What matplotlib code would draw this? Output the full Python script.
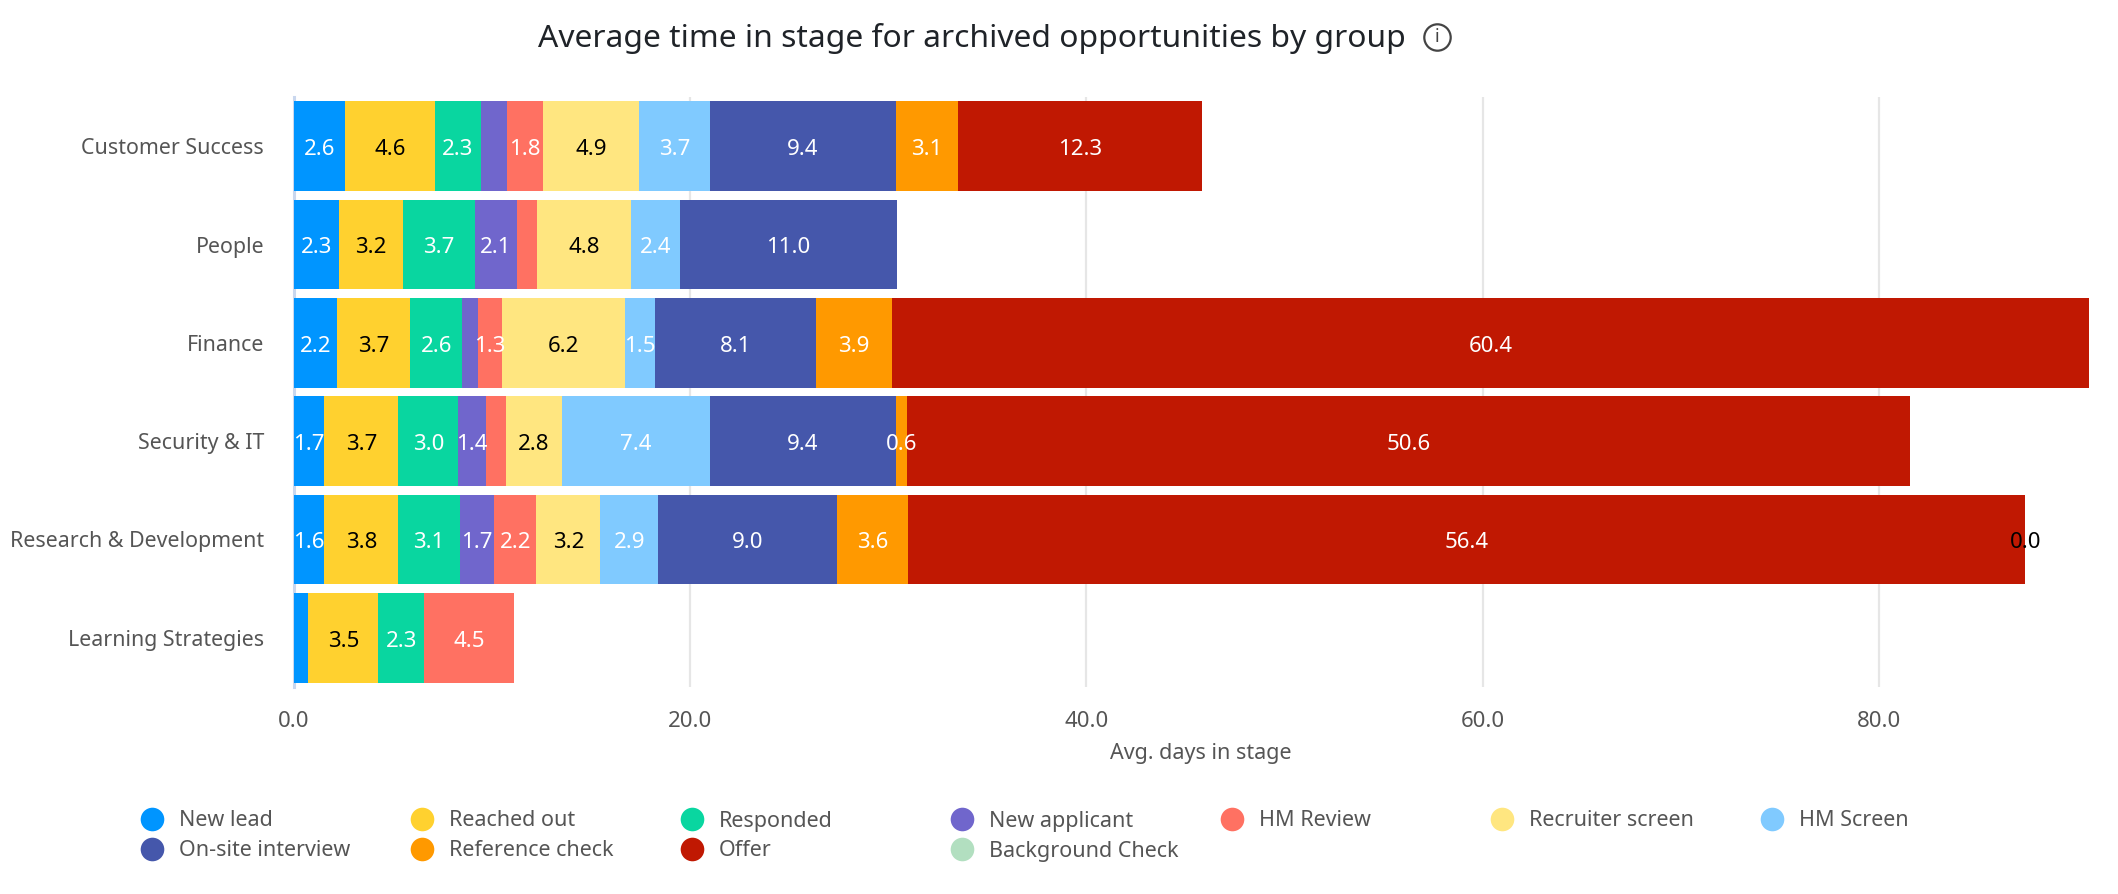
import matplotlib
matplotlib.use("Agg")
import matplotlib.pyplot as plt
from matplotlib.lines import Line2D

plt.rcParams['font.family'] = ['Noto Sans', 'DejaVu Sans']

groups = ["Customer Success", "People", "Finance", "Security & IT", "Research & Development", "Learning Strategies"]
stages = ["New lead", "Reached out", "Responded", "New applicant", "HM Review", "Recruiter screen", "HM Screen",
          "On-site interview", "Reference check", "Offer", "Background Check"]
colors = ["#0095ff", "#ffd12f", "#09d6a0", "#7066cc", "#ff7162", "#ffe680", "#80caff",
          "#4557ab", "#ff9900", "#c01802", "#b2dfc0"]
label_colors = ["white", "black", "white", "white", "white", "black", "white", "white", "white", "white", "black"]

# widths
new_lead = [2.56, 2.26, 2.16, 1.53, 1.53, 0.72]
reached_out = [4.56, 3.22, 3.7, 3.74, 3.74, 3.54]
responded = [2.32, 3.66, 2.64, 3.02, 3.11, 2.3]
new_applicant = [1.31, 2.12, 0.81, 1.42, 1.74, 0]
hm_review = [1.83, 1.02, 1.19, 0.99, 2.12, 4.55]
recruiter_screen = [4.86, 4.75, 6.22, 2.84, 3.22, 0]
hm_screen = [3.56, 2.43, 1.51, 7.44, 2.93, 0]
onsite = [9.38, 11.0, 8.1, 9.4, 9.0, 0]
reference_check = [3.14, 0, 3.86, 0.55, 3.6, 0]
offer = [12.3, 0, 60.44, 50.64, 56.4, 0]
background_check = [0, 0, 0, 0, 0.0, 0]
series = [new_lead, reached_out, responded, new_applicant, hm_review, recruiter_screen, hm_screen,
          onsite, reference_check, offer, background_check]

# printed label differs from the drawn width in a few cells, and some cells print nothing
label_override = {("Finance", "HM Review"): "1.3",
                  ("Customer Success", "HM Screen"): "3.7",
                  ("Security & IT", "New lead"): "1.7",
                  ("Research & Development", "New lead"): "1.6",
                  ("Research & Development", "Reached out"): "3.8",
                  ("Research & Development", "HM Review"): "2.2"}
no_label = {("Customer Success", "New applicant"), ("People", "HM Review"), ("Finance", "New applicant"),
            ("Security & IT", "HM Review"), ("Learning Strategies", "New lead")}
shown_zero = {("Research & Development", "Background Check")}

W, H = 2118, 894
fig = plt.figure(figsize=(W / 100, H / 100), dpi=100)
ax = fig.add_axes([294 / W, 1 - 687 / H, (2090 - 294) / W, (687 - 97) / H])

ypos = list(range(len(groups)))
left = [0.0] * len(groups)
for stage, vals, col, lcol in zip(stages, series, colors, label_colors):
    bars = ax.barh(ypos, vals, left=left, height=0.91, color=col, zorder=3)
    labels = []
    for g, v in zip(groups, vals):
        if (g, stage) in no_label or (v == 0 and (g, stage) not in shown_zero):
            labels.append("")
        else:
            labels.append(label_override.get((g, stage), f"{v:.1f}"))
    anns = ax.bar_label(bars, labels=labels, label_type="center", color=lcol, fontsize=16, zorder=5)
    for t in anns:
        t.xyann = (0, -2.5)
    left = [a + b for a, b in zip(left, vals)]

ax.set_ylim(5.5, -0.5)
ax.set_xlim(0, 90.66)
ax.set_yticks(ypos)
ax.set_yticklabels(groups, fontsize=15.4, color="#555555")
ax.set_xticks([0, 20, 40, 60, 80])
ax.set_xticklabels(["0.0", "20.0", "40.0", "60.0", "80.0"], fontsize=16, color="#555555")
ax.tick_params(axis="both", length=0)
ax.tick_params(axis="y", pad=21.5)
ax.tick_params(axis="x", pad=17.5)
ax.grid(axis="x", color="#e6e6e6", linewidth=1.6, zorder=0)
ax.set_axisbelow(True)
for s in ["top", "right", "bottom"]:
    ax.spines[s].set_visible(False)
ax.spines["left"].set_color("#c9d7ee")
ax.spines["left"].set_linewidth(2.2)
ax.set_xlabel("Avg. days in stage", fontsize=15.5, color="#555555", labelpad=8, x=0.505)


def fx(px):
    return px / W


def fy(px):
    return 1 - px / H


fig.text(fx(538), fy(38), "Average time in stage for archived opportunities by group",
         fontsize=22.9, color="#1f2328", va="center", ha="left")
fig.add_artist(Line2D([fx(1437)], [fy(37)], marker="o", markersize=19, markerfacecolor="none",
                      markeredgecolor="#444444", markeredgewidth=1.6, transform=fig.transFigure))
fig.text(fx(1437), fy(37), "i", fontsize=13, color="#444444", ha="center", va="center")

# legend laid out by hand, fixed 270px columns
col_x = [152, 422, 692, 962, 1232, 1502, 1772]
row_y = [819, 849]
for i, (stage, col) in enumerate(zip(stages, colors)):
    x = col_x[i % 7]
    y = row_y[i // 7]
    fig.add_artist(Line2D([fx(x)], [fy(y)], marker="o", markersize=17, markerfacecolor=col,
                          markeredgecolor="none", transform=fig.transFigure))
    fig.text(fx(x + 27), fy(y + 2), stage, fontsize=15.5, color="#555555", va="center", ha="left")

fig.savefig("out.png", dpi=100, facecolor="white")
